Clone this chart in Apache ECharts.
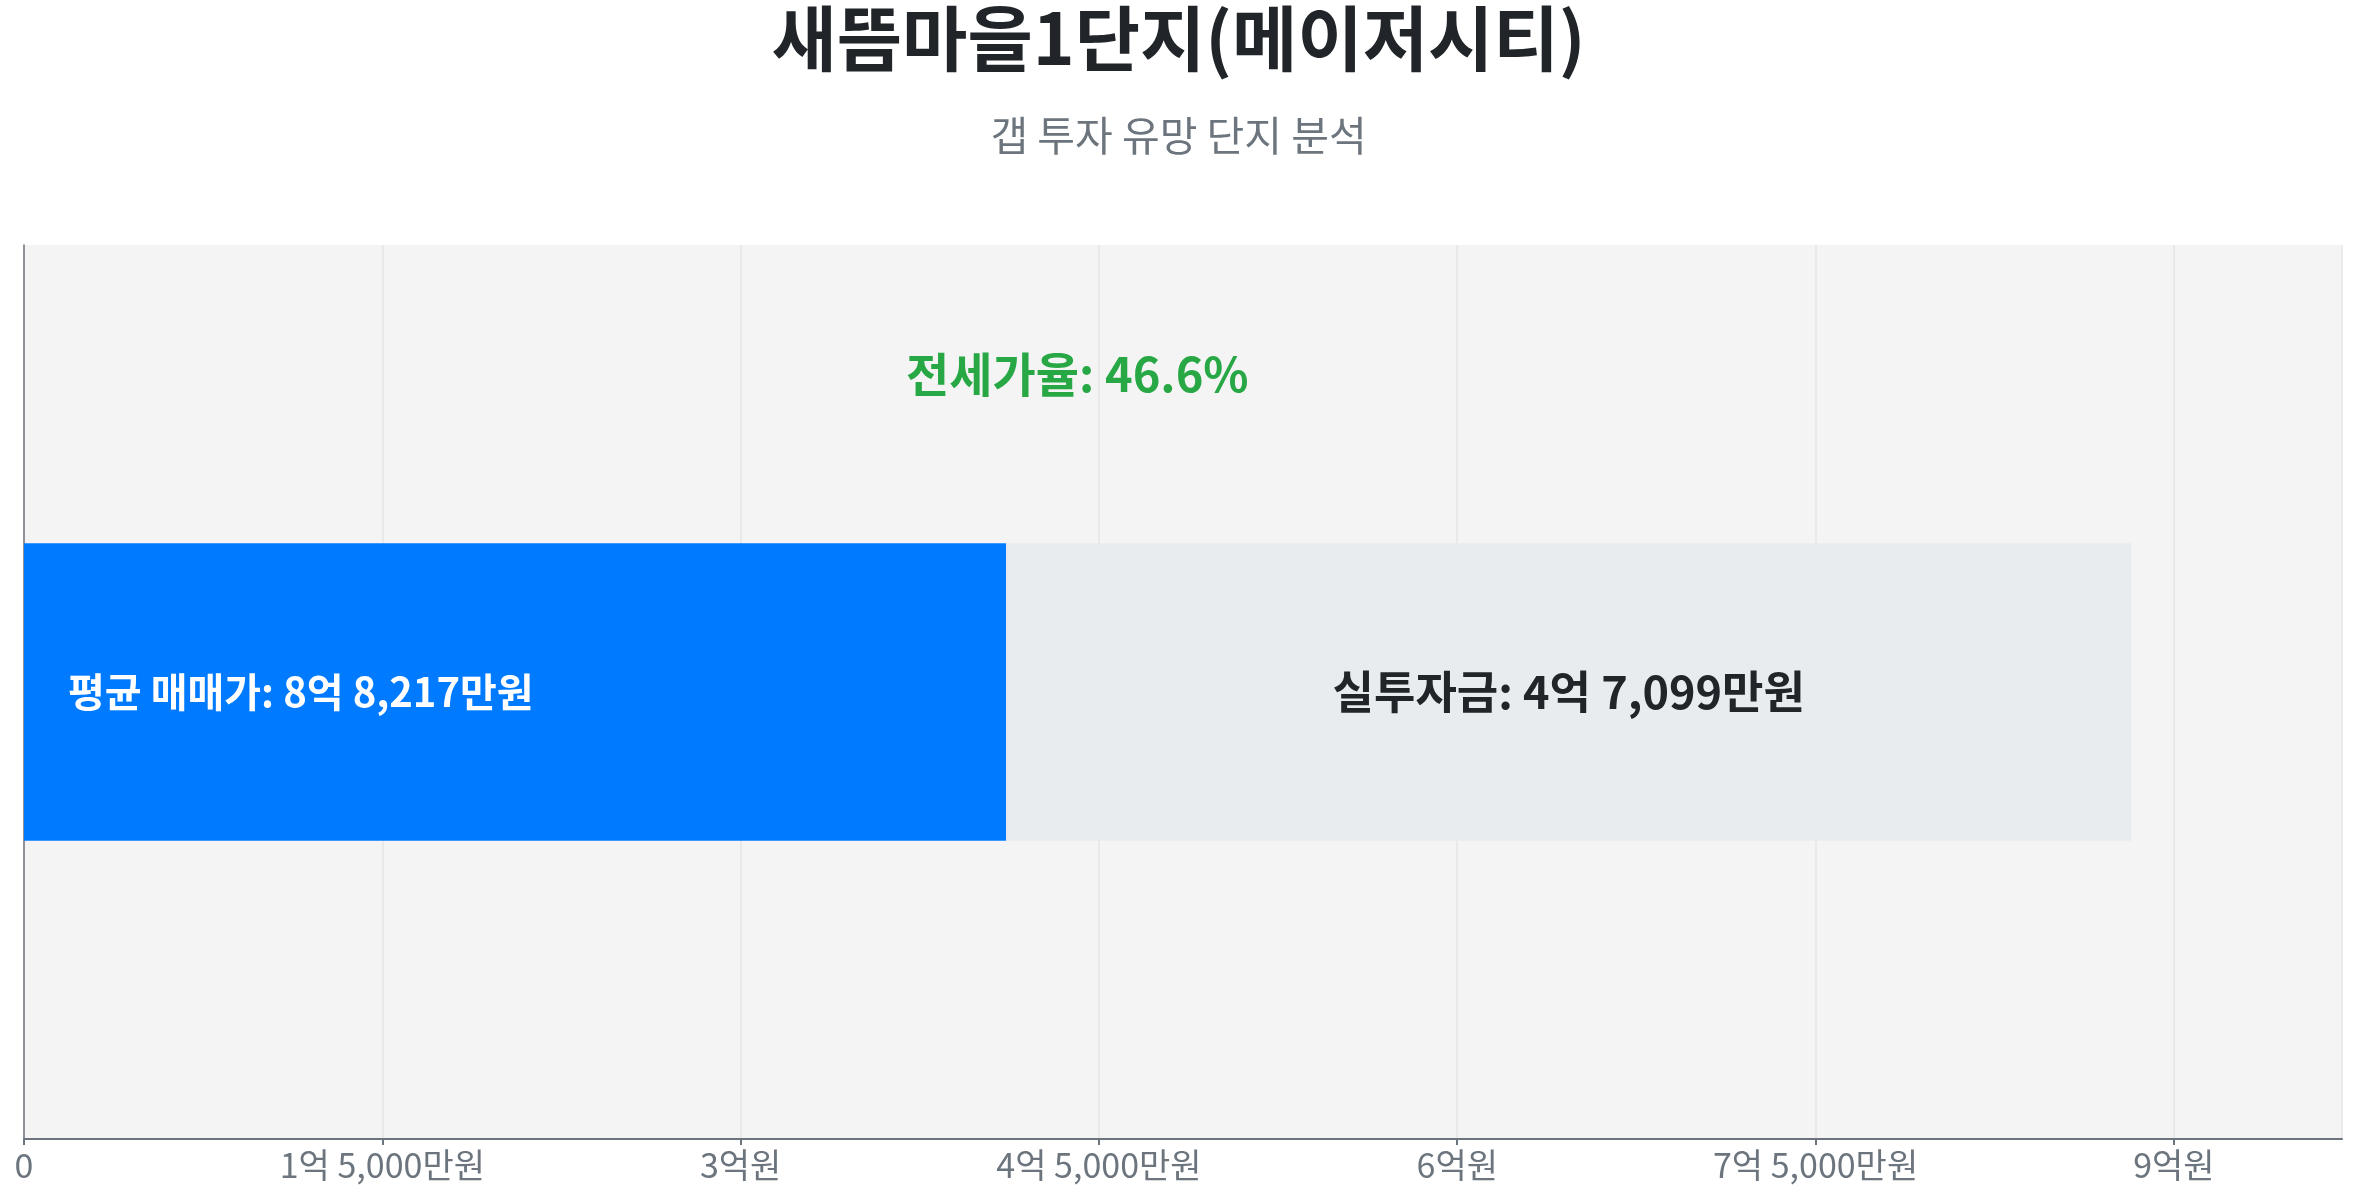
<!DOCTYPE html>
<html>
<head>
<meta charset="utf-8">
<script src="https://cdn.jsdelivr.net/npm/echarts@6/dist/echarts.min.js"></script>
<style>
  html, body { margin: 0; padding: 0; background: #fff; }
  #chart { width: 2357px; height: 1201px; }
</style>
</head>
<body>
<div id="chart"></div>
<script>
// values in 만원
let categories = ['새뜸마을1단지(메이저시티)'];
let salePrice = [88217];      // 평균 매매가
let jeonsePart = [41118];     // 전세가 (blue part of the bar)
let investPart = [47099];     // 실투자금 (grey part)
let jeonseRate = 46.6;
let tickStep = 15000;

function fmtMan(v) {
    if (v === 0) return '0';
    let eok = Math.floor(v / 10000);
    let man = Math.round(v % 10000);
    let s = '';
    if (eok > 0) s += eok + '억';
    if (man > 0) s += (s ? ' ' : '') + man.toLocaleString('en-US') + '만원';
    else s += '원';
    return s;
}

let chart = echarts.init(document.getElementById('chart'));

let opts = {
    textStyle: { fontFamily: '"Noto Sans CJK KR", "Noto Sans", sans-serif' },
    title: [
        {
            text: categories[0],
            left: 'center',
            top: -2,
            textStyle: { fontSize: 71, fontWeight: 'bold', color: '#212529' },
        },
        {
            text: '갭 투자 유망 단지 분석',
            left: 'center',
            top: 110,
            textStyle: { fontSize: 41, fontWeight: 'normal', color: '#6c757d' },
        },
    ],
    grid: {
        left: 24,
        right: 15,
        top: 245,
        bottom: 62,
        show: true,
        backgroundColor: '#f4f4f4',
        borderWidth: 0,
    },
    xAxis: {
        type: 'value',
        min: 0,
        max: salePrice[0] * 1.1,
        interval: tickStep,
        axisLine: { show: true, lineStyle: { color: '#6c757d', width: 2 } },
        axisTick: { show: true, length: 6, lineStyle: { color: '#6c757d', width: 2 } },
        splitLine: { show: true, lineStyle: { color: '#e6e6e6', width: 1.5 } },
        axisLabel: {
            showMaxLabel: false,
            fontSize: 34,
            color: '#6c757d',
            margin: 9,
            formatter: function (v) {
                if (v % tickStep !== 0) return '';
                return fmtMan(v);
            },
        },
    },
    yAxis: {
        type: 'category',
        data: categories,
        axisLine: { show: true, lineStyle: { color: '#6c757d', width: 1.5 } },
        axisTick: { show: false },
        axisLabel: { show: false },
    },
    series: [
        {
            name: '전세가',
            type: 'bar',
            stack: 'total',
            barWidth: '33.3%',
            data: jeonsePart,
            itemStyle: { color: '#007bff' },
            label: {
                show: true,
                position: 'insideLeft',
                distance: 44,
                color: '#ffffff',
                fontSize: 40,
                fontWeight: 'bold',
                formatter: function () {
                    return '평균 매매가: ' + fmtMan(salePrice[0]);
                },
            },
        },
        {
            name: '실투자금',
            type: 'bar',
            stack: 'total',
            barWidth: '33.3%',
            data: investPart,
            itemStyle: { color: '#e9ecef' },
            label: {
                show: true,
                position: 'inside',
                color: '#212529',
                fontSize: 45,
                fontWeight: 'bold',
                formatter: function (p) {
                    return '실투자금: ' + fmtMan(p.value);
                },
            },
        },
    ],
    graphic: [
        {
            type: 'text',
            left: 906,
            top: 351,
            style: {
                text: '전세가율: ' + jeonseRate.toFixed(1) + '%',
                fill: '#28a745',
                font: 'bold 47px "Noto Sans CJK KR", sans-serif',
            },
        },
    ],
};

chart.setOption(opts, true);
</script>
</body>
</html>
